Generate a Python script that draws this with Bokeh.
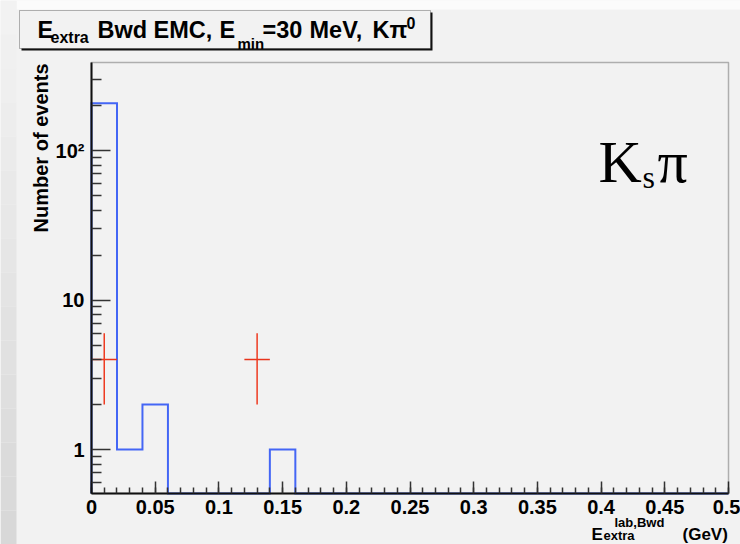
import math
import numpy as np
from bokeh.plotting import figure
from bokeh.models import (Range1d, FixedTicker, SingleIntervalTicker, CustomJSTickFormatter,
                          Label, BoxAnnotation, ColumnDataSource, LinearAxis, LogAxis)
from bokeh.embed import file_html
from bokeh.resources import INLINE

# ---------------- data ----------------
bin_width = 0.02
bin_low = [0.00, 0.02, 0.04, 0.06, 0.08, 0.10, 0.12, 0.14, 0.16, 0.18,
           0.20, 0.22, 0.24, 0.26, 0.28, 0.30, 0.32, 0.34, 0.36, 0.38,
           0.40, 0.42, 0.44, 0.46, 0.48]
mc_counts = [207, 1, 2, 0, 0, 0, 0, 1, 0, 0,
             0, 0, 0, 0, 0, 0, 0, 0, 0, 0,
             0, 0, 0, 0, 0]
data_x = [0.01, 0.13]
data_y = [4, 4]
data_err = [2, 2]
data_xerr = [0.01, 0.01]

x_min, x_max = 0.0, 0.5
y_min, y_max = 0.508, 388.0
x_tick_interval = 0.05
y_major_ticks = [1, 10, 100]

# ---------------- layout geometry (pixels) ----------------
W, H = 740, 544
FL, FR, FT, FB = 91, 728, 62, 493   # data-frame edges on the canvas

def sy(y_top):
    return H - y_top

dx = (x_max - x_min) / (FR - FL)
xr = Range1d(x_min - FL * dx, x_max + (W - FR) * dx)
ly0, ly1 = math.log10(y_min), math.log10(y_max)
dly = (ly1 - ly0) / (FB - FT)
yr = Range1d(10 ** (ly0 - (H - FB) * dly), 10 ** (ly1 + FT * dly))

p = figure(width=W, height=H, y_axis_type="log", output_backend="svg",
           toolbar_location=None, x_range=xr, y_range=yr,
           x_axis_location=None, y_axis_location=None, min_border=0)
p.title.visible = False
p.background_fill_color = "#f2f2f2"
p.border_fill_color = "#f2f2f2"
p.outline_line_color = None
p.xgrid.visible = False
p.ygrid.visible = False

# ---------------- background decorations ----------------
def sbox(l, r, t, b, **kw):
    return BoxAnnotation(left=l, right=r, top=sy(t), bottom=sy(b),
                         left_units="screen", right_units="screen",
                         top_units="screen", bottom_units="screen", **kw)

p.add_layout(sbox(16, W, 0, 9, fill_color="#fbfbfb", fill_alpha=1, line_alpha=0, level="underlay"))
nb = 16
for i in range(nb):
    t = i / (nb - 1)
    g = int(round(0xf2 * (1 - t) + 0xd8 * t))
    col = "#%02x%02x%02x" % (g, g, g)
    p.add_layout(sbox(0, 16, H * i / nb, H * (i + 1) / nb,
                      fill_color=col, fill_alpha=1, line_alpha=0, level="underlay"))

# ---------------- histogram (step outline) ----------------
xs, ys = [x_min], [y_min]
for lo, c in zip(bin_low, mc_counts):
    hi = lo + bin_width
    yv = c if c > 0 else y_min
    xs += [lo, hi]
    ys += [yv, yv]
p.line(xs, ys, line_color="#4466f5", line_width=2, line_join="miter")

# ---------------- data points with errors ----------------
src = ColumnDataSource(dict(
    x=data_x, y=data_y,
    x0=[a - b for a, b in zip(data_x, data_xerr)],
    x1=[a + b for a, b in zip(data_x, data_xerr)],
    ylo=[a - b for a, b in zip(data_y, data_err)],
    yhi=[a + b for a, b in zip(data_y, data_err)],
))
p.segment(x0="x0", y0="y", x1="x1", y1="y", source=src, line_color="#e8341c", line_width=1.5)
p.segment(x0="x", y0="ylo", x1="x", y1="yhi", source=src, line_color="#ee3a20", line_width=1.5)

# ---------------- frame (top/right) ----------------
p.add_layout(BoxAnnotation(left=x_min, right=x_max, bottom=y_min, top=y_max,
                           fill_alpha=0, line_color="#111111", line_width=1.5))

# ---------------- axes ----------------
xaxis = LinearAxis(fixed_location=y_min, bounds=(x_min, x_max))
yaxis = LogAxis(fixed_location=x_min, bounds=(y_min, y_max))
for ax in (xaxis, yaxis):
    ax.axis_line_width = 2
    ax.axis_line_color = "#111111"
    ax.major_tick_line_color = "#333333"
    ax.minor_tick_line_color = "#333333"
    ax.major_tick_line_width = 1.5
    ax.minor_tick_line_width = 1.5
    ax.major_tick_out = 0
    ax.minor_tick_out = 0
    ax.major_label_text_font = "Liberation Sans"
    ax.major_label_text_font_style = "bold"
    ax.major_label_text_font_size = "20px"
    ax.major_label_text_color = "black"

xaxis.ticker = SingleIntervalTicker(interval=x_tick_interval, num_minor_ticks=5)
xaxis.formatter = CustomJSTickFormatter(code="return (Math.round(tick*100)/100).toString();")
xaxis.major_tick_in = 12
xaxis.minor_tick_in = 6
xaxis.major_label_standoff = 6

minor = []
for dec in (0.1, 1, 10, 100):
    for m in range(2, 10):
        v = m * dec
        if y_min < v < y_max:
            minor.append(v)
yaxis.ticker = FixedTicker(ticks=y_major_ticks, minor_ticks=minor)
yaxis.formatter = CustomJSTickFormatter(
    code="var v = Math.round(tick); if (v >= 100) { return '10\u00b2'; } return v.toString();")
yaxis.major_tick_in = 19
yaxis.minor_tick_in = 10
yaxis.major_label_standoff = 7

p.add_layout(xaxis, "below")
p.add_layout(yaxis, "left")

# ---------------- title box with shadow ----------------
p.add_layout(sbox(21, 432, 12, 50, fill_color="#111111", fill_alpha=1, line_alpha=0))
p.add_layout(sbox(19, 430, 10, 48, fill_color="#f2f2f2", fill_alpha=1,
                  line_color="#111111", line_width=1))

def lab(x, y_top, text, size, font="Liberation Sans", style="bold", **kw):
    p.add_layout(Label(x=x, y=sy(y_top), x_units="screen", y_units="screen", text=text,
                       text_font=font, text_font_style=style, text_font_size=size,
                       text_color="black", text_baseline="alphabetic", text_align="left", **kw))

# title pieces
T = "23.5px"
lab(37, 29, "E", T)
lab(50, 37, "extra", "16px")
lab(97, 29, "Bwd", T)
lab(153, 29, "EMC,", T)
lab(219, 29, "E", T)
lab(237, 43, "min", "15px")
lab(262, 29, "=30", T)
lab(309, 29, "MeV,", T)
lab(372, 29, "K\u03c0", T)
lab(406, 22, "0", "16px")

# x axis title pieces
lab(591, 534, "E", "17px")
lab(603, 535, "extra", "13px")
lab(614, 522, "lab,Bwd", "13px")
lab(682, 534, "(GeV)", "17px")

# y axis title
p.add_layout(Label(x=40, y=sy(63), x_units="screen", y_units="screen", text="Number of events",
                   text_font="Liberation Sans", text_font_style="bold", text_font_size="20px",
                   text_color="black", text_baseline="alphabetic", text_align="right",
                   angle=np.pi / 2))

# K_s pi
lab(598, 161, "K", "60px", font="Liberation Serif", style="normal")
lab(642, 176, "s", "32px", font="Liberation Serif", style="normal")
lab(657, 161, "\u03c0", "60px", font="Liberation Serif", style="normal")

open("out.html", "w").write(file_html(p, INLINE))
